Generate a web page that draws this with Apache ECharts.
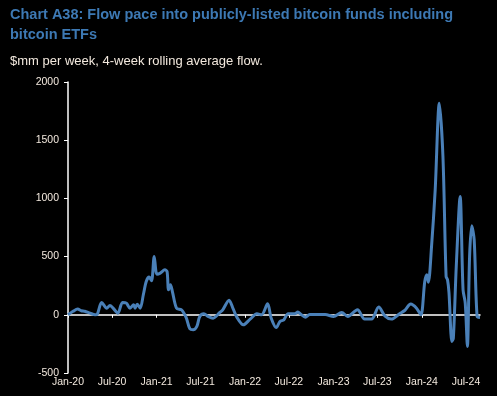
<!DOCTYPE html>
<html>
<head>
<meta charset="utf-8">
<script src="https://cdn.jsdelivr.net/npm/echarts@6/dist/echarts.min.js"></script>
<style>
  html, body { margin: 0; padding: 0; background: #000; }
  #chart { width: 497px; height: 396px; }
</style>
</head>
<body>
<div id="chart"></div>
<script>
// 4-week rolling average flow, $mm per week
var dates = [
  '2020-01-01','2020-01-22','2020-02-10','2020-02-25','2020-03-10','2020-04-01','2020-04-22','2020-05-01',
  '2020-05-19','2020-06-09','2020-06-22','2020-07-05','2020-07-25','2020-08-13','2020-08-29','2020-09-13',
  '2020-09-28','2020-10-04','2020-10-13','2020-10-25','2020-11-07','2020-11-19','2020-12-01','2020-12-11',
  '2020-12-22','2021-01-02','2021-01-16','2021-02-04','2021-02-13','2021-02-19','2021-02-27','2021-03-07',
  '2021-03-24','2021-04-13','2021-04-22','2021-05-04','2021-05-18','2021-06-01','2021-06-16','2021-06-28',
  '2021-07-15','2021-08-01','2021-08-22','2021-09-19','2021-10-01','2021-10-27','2021-11-13','2021-11-28',
  '2021-12-25','2022-01-22','2022-02-19','2022-03-10','2022-04-04','2022-04-19','2022-05-10','2022-05-25',
  '2022-06-10','2022-06-28','2022-07-25','2022-08-07','2022-08-19','2022-09-07','2022-09-25','2022-11-07',
  '2022-11-28','2023-01-01','2023-02-04','2023-03-01','2023-04-10','2023-05-10','2023-06-07','2023-07-07',
  '2023-08-01','2023-08-28','2023-10-01','2023-10-22','2023-11-16','2023-12-10','2023-12-28','2024-01-13',
  '2024-01-22','2024-01-28','2024-02-10','2024-02-25','2024-03-13','2024-03-28','2024-04-10','2024-04-16',
  '2024-04-22','2024-05-04','2024-05-10','2024-05-22','2024-06-07','2024-06-19','2024-06-28','2024-07-07',
  '2024-07-16','2024-07-25','2024-08-04','2024-08-16','2024-08-28'
];
var flows = [
  0, 30, 50, 35, 30, 14, 0, 5,
  105, 57, 80, 57, 14, 106, 100, 57,
  86, 57, 91, 57, 172, 286, 324, 292,
  501, 349, 358, 386, 372, 215, 258, 200,
  57, 43, 20, -29, -120, -129, -100, -14,
  9, -14, -29, 20, 43, 125, 50, -20,
  -86, -37, 9, 0, 94, -29, -110, -57,
  -43, 9, 9, 25, 5, -20, 3, 3,
  3, -14, 20, -14, 43, -37, -37, 66,
  -9, -37, 9, 37, 92, 57, 0, 286,
  344, 280, 587, 1074, 1818, 1360, 330, 300,
  189, -229, -200, 415, 1016, 215, 103, -272,
  501, 765, 644, -14, -23
];
var tickDates = ['2020-01-01','2020-07-01','2021-01-01','2021-07-01','2022-01-01','2022-07-01',
  '2023-01-01','2023-07-01','2024-01-01','2024-07-01'];
var tickLabels = ['Jan-20','Jul-20','Jan-21','Jul-21','Jan-22','Jul-22','Jan-23','Jul-23','Jan-24','Jul-24'];

// days since 2020-01-01
function dayNum(s) {
  var p = s.split('-');
  return (Date.UTC(+p[0], +p[1] - 1, +p[2]) - Date.UTC(2020, 0, 1)) / 86400000;
}

var tickDays = tickDates.map(dayNum);
var seriesData = dates.map(function (d, i) { return [dayNum(d), flows[i]]; });
var xMin = dayNum(dates[0]);
var xMax = dayNum(dates[dates.length - 1]);

var labelColor = '#f3e9de';
var font = '"Liberation Sans", Arial, sans-serif';

var chart = echarts.init(document.getElementById('chart'));
chart.setOption({
  backgroundColor: '#000',
  animation: false,
  title: [
    {
      text: 'Chart A38: Flow pace into publicly-listed bitcoin funds including\nbitcoin ETFs',
      left: 10, top: 5, padding: 0,
      textStyle: { color: '#3d79b4', fontSize: 14.5, fontWeight: 'bold', fontFamily: font, lineHeight: 20 }
    },
    {
      text: '$mm per week, 4-week rolling average flow.',
      left: 10, top: 55, padding: 0,
      textStyle: { color: labelColor, fontSize: 13, fontWeight: 'normal', fontFamily: font }
    }
  ],
  grid: { left: 68, right: 17, top: 82, bottom: 23, containLabel: false },
  xAxis: [
    {
      type: 'value', min: xMin, max: xMax,
      axisLine: { onZero: true, lineStyle: { color: '#fff', width: 1.5 } },
      axisTick: { show: true, length: 3, customValues: tickDays, lineStyle: { color: '#fff' } },
      axisLabel: { show: false },
      splitLine: { show: false }
    },
    {
      type: 'value', min: xMin, max: xMax, position: 'bottom',
      axisLine: { show: false, onZero: false },
      axisTick: { show: false },
      axisLabel: {
        show: true, customValues: tickDays, margin: 4,
        color: labelColor, fontSize: 10.5, fontFamily: font,
        formatter: function (v) {
          var i = tickDays.indexOf(v);
          return i >= 0 ? tickLabels[i] : '';
        }
      },
      splitLine: { show: false }
    }
  ],
  yAxis: {
    type: 'value', min: -500, max: 2000, interval: 500,
    axisLine: { show: true, lineStyle: { color: '#fff', width: 1.5 } },
    axisTick: { show: true, inside: false, length: 4, lineStyle: { color: '#fff' } },
    axisLabel: {
      color: labelColor, fontSize: 10.5, fontFamily: font, margin: 9,
      formatter: function (v) { return String(v); }
    },
    splitLine: { show: false }
  },
  series: [
    {
      name: 'Flow', type: 'line', xAxisIndex: 0,
      data: seriesData,
      showSymbol: false, smooth: 0.3,
      lineStyle: { color: '#4a80b8', width: 3 }
    }
  ]
});
</script>
</body>
</html>
